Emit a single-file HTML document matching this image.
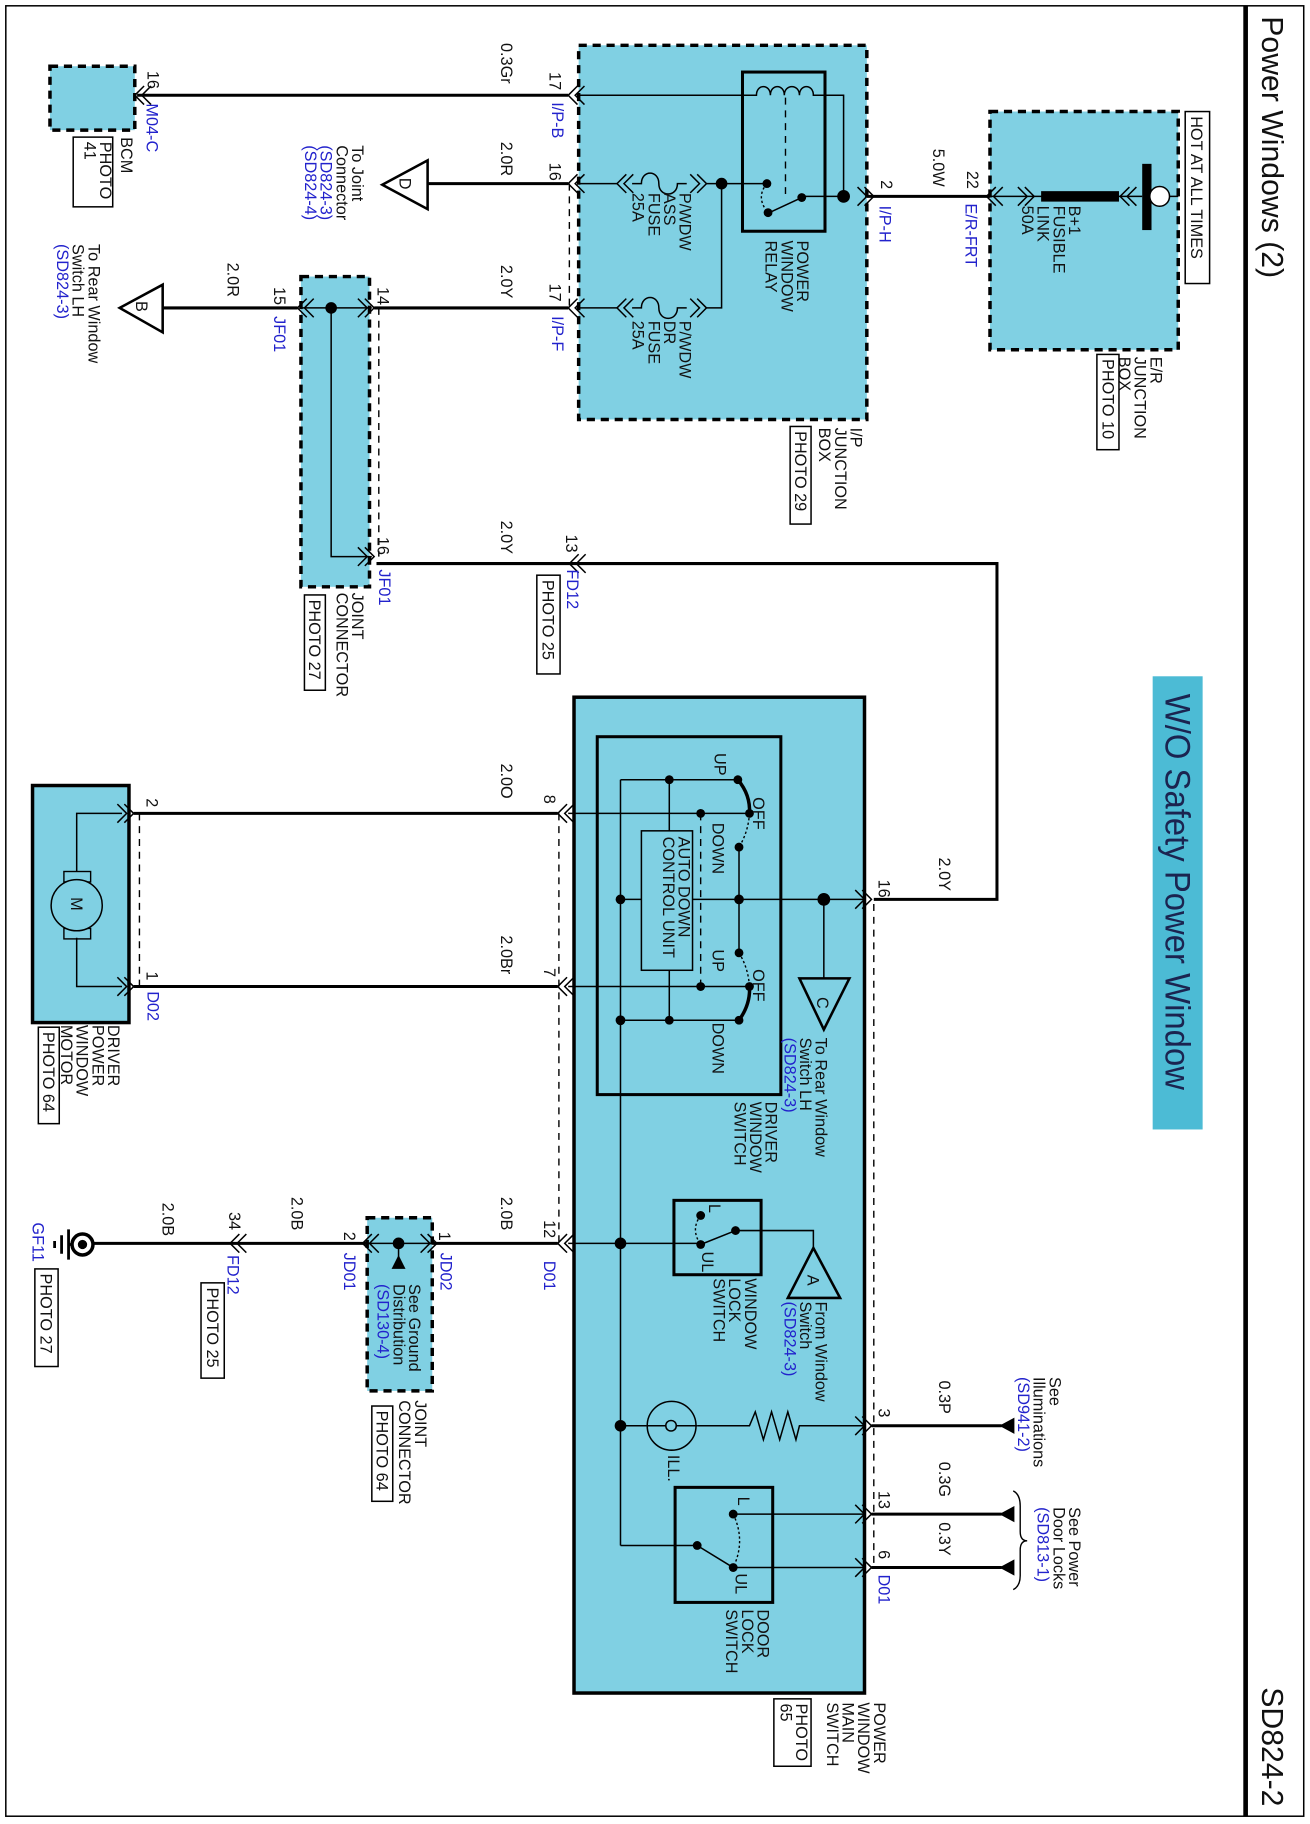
<!DOCTYPE html>
<html><head><meta charset="utf-8"><style>
html,body{margin:0;padding:0;background:#fff}
svg{display:block}
text{font-family:"Liberation Sans",Arial,sans-serif;font-size:14px;fill:#111}
.b{fill:#2222cc}
.w{stroke:#000;stroke-width:2.6;fill:none}
.t{stroke:#000;stroke-width:1.3;fill:none}
.d{stroke:#000;stroke-width:1.2;fill:none;stroke-dasharray:6 5}
.box{fill:#80d0e3;stroke:#000;stroke-width:3;stroke-dasharray:7 5}
.sbox{fill:#80d0e3;stroke:#000;stroke-width:3}
.pb{fill:#fff;stroke:#000;stroke-width:1.3}
</style></head><body>
<svg width="1310" height="1824" viewBox="0 0 1127.4 1569.7" preserveAspectRatio="none" xmlns="http://www.w3.org/2000/svg">
<defs>
<g id="cl"><path d="M8,-8 L0,0 L8,8 M14,-8 L6,0 L14,8" stroke="#000" stroke-width="1.3" fill="none"/></g>
<g id="cr"><path d="M-8,-8 L0,0 L-8,8 M-14,-8 L-6,0 L-14,8" stroke="#000" stroke-width="1.3" fill="none"/></g>
</defs>
<rect x="0" y="0" width="1127.4" height="1569.7" fill="#fff"/>
<rect x="5" y="5" width="1117" height="1558" fill="none" stroke="#000" stroke-width="1.3"/>
<line x1="1072" y1="5" x2="1072" y2="1563" stroke="#000" stroke-width="4"/>
<text transform="translate(1086,14) rotate(90)" style="font-size:26px">Power Windows (2)</text>
<text transform="translate(1086,1452) rotate(90)" style="font-size:26px">SD824-2</text>

<rect x="992" y="582" width="43" height="390" fill="#4cbbd5"/>
<text transform="translate(1003,597) rotate(90)" style="font-size:30px;fill:#1b2450" textLength="341" lengthAdjust="spacingAndGlyphs">W/O Safety Power Window</text>

<rect class="box" x="852" y="96" width="162" height="205"/>
<rect class="pb" x="1020" y="96" width="21" height="148"/>
<text transform="translate(1025,100) rotate(90)">HOT AT ALL TIMES</text>
<line class="w" x1="745" y1="169" x2="852" y2="169"/>
<line class="t" x1="852" y1="169" x2="983" y2="169"/>
<use href="#cl" x="849" y="169"/><use href="#cr" x="890" y="169"/><use href="#cl" x="964" y="169"/>
<rect x="896" y="164.5" width="67" height="9" fill="#000"/>
<rect x="983" y="141" width="8" height="57" fill="#000"/>
<line class="t" x1="991" y1="169" x2="1014" y2="169"/>
<circle cx="998" cy="169" r="8.5" fill="#fff" stroke="#000" stroke-width="1.3"/>
<text transform="translate(920,177) rotate(90)"><tspan x="0">B+1</tspan><tspan x="0" dy="13.5">FUSIBLE</tspan><tspan x="0" dy="13.5">LINK</tspan><tspan x="0" dy="13.5">50A</tspan></text>
<text transform="translate(990,307) rotate(90)"><tspan x="0">E/R</tspan><tspan x="0" dy="13.5">JUNCTION</tspan><tspan x="0" dy="13.5">BOX</tspan></text>
<rect class="pb" x="944" y="305" width="19" height="82"/>
<text transform="translate(949,309) rotate(90)">PHOTO 10</text>
<text transform="translate(832,147) rotate(90)">22</text>
<text class="b" transform="translate(831,175) rotate(90)">E/R-FRT</text>
<text transform="translate(803,128) rotate(90)">5.0W</text>
<text transform="translate(758,155) rotate(90)">2</text>
<text class="b" transform="translate(757,177) rotate(90)">I/P-H</text>

<rect class="box" x="498" y="39" width="248" height="322"/>
<rect x="639" y="62" width="71" height="137" fill="none" stroke="#000" stroke-width="2.6"/>
<use href="#cr" x="752" y="169"/>
<path class="t" d="M497,82 L651,82 C651,72 663,72 663,82 C663,72 675,72 675,82 C675,72 688,72 688,82 C688,72 700,72 700,82 L726,82 L726,169 L690,169"/>
<line class="d" x1="676" y1="84" x2="676" y2="168"/>
<circle cx="726" cy="169" r="5.5"/>
<circle cx="690" cy="170" r="3.8"/><circle cx="660" cy="158" r="3.8"/><circle cx="661" cy="183" r="3.8"/>
<line class="t" x1="690" y1="170" x2="662" y2="183"/>
<path d="M660,158 Q650,170 661,183" stroke="#000" stroke-width="1.2" fill="none" stroke-dasharray="2 2"/>
<path class="t" d="M497,158 L531,158 M544,158 L552,158 C552,146 567,146 567,158 C567,170 583,170 583,158 L591,158 M608,158 L660,158"/>
<circle cx="621" cy="158" r="5"/>
<path class="t" d="M621,158 L621,265 L608,265 M591,265 L583,265 C583,277 567,277 567,265 C567,253 552,253 552,265 L544,265 M531,265 L497,265"/>
<use href="#cl" x="531" y="158"/><use href="#cr" x="608" y="158"/>
<use href="#cl" x="531" y="265"/><use href="#cr" x="608" y="265"/>
<use href="#cl" x="489" y="82"/><use href="#cl" x="489" y="158"/><use href="#cl" x="489" y="265"/>
<line class="d" x1="490" y1="158" x2="490" y2="265"/>
<text transform="translate(686,207) rotate(90)"><tspan x="0">POWER</tspan><tspan x="0" dy="13.5">WINDOW</tspan><tspan x="0" dy="13.5">RELAY</tspan></text>
<text transform="translate(585,166) rotate(90)"><tspan x="0">P/WDW</tspan><tspan x="0" dy="13.5">ASS</tspan><tspan x="0" dy="13.5">FUSE</tspan><tspan x="0" dy="13.5">25A</tspan></text>
<text transform="translate(585,276) rotate(90)"><tspan x="0">P/WDW</tspan><tspan x="0" dy="13.5">DR</tspan><tspan x="0" dy="13.5">FUSE</tspan><tspan x="0" dy="13.5">25A</tspan></text>
<text transform="translate(732,368) rotate(90)"><tspan x="0">I/P</tspan><tspan x="0" dy="13.5">JUNCTION</tspan><tspan x="0" dy="13.5">BOX</tspan></text>
<rect class="pb" x="680" y="367" width="18" height="84"/>
<text transform="translate(684,371) rotate(90)">PHOTO 29</text>
<text transform="translate(473,62) rotate(90)">17</text>
<text class="b" transform="translate(475,88) rotate(90)">I/P-B</text>
<text transform="translate(431,37) rotate(90)">0.3Gr</text>
<text transform="translate(473,140) rotate(90)">16</text>
<text transform="translate(431,122) rotate(90)">2.0R</text>
<text transform="translate(473,244) rotate(90)">17</text>
<text class="b" transform="translate(475,272) rotate(90)">I/P-F</text>
<text transform="translate(431,228) rotate(90)">2.0Y</text>

<rect class="box" x="43" y="57" width="73" height="55"/>
<line class="w" x1="118" y1="82" x2="489" y2="82"/>
<use href="#cl" x="116" y="82"/>
<text transform="translate(127,61) rotate(90)">16</text>
<text class="b" transform="translate(126,89) rotate(90)">M04-C</text>
<text transform="translate(104,118) rotate(90)">BCM</text>
<rect class="pb" x="63" y="118" width="34" height="60"/>
<text transform="translate(86,122) rotate(90)"><tspan x="0">PHOTO</tspan><tspan x="0" dy="13.5">41</tspan></text>

<line class="w" x1="368" y1="158" x2="489" y2="158"/>
<polygon points="329,159 368,138 368,180" fill="#fff" stroke="#000" stroke-width="2.2"/>
<text transform="translate(344,153) rotate(90)">D</text>
<text transform="translate(303,125) rotate(90)"><tspan x="0">To Joint</tspan><tspan x="0" dy="13.5">Connector</tspan><tspan x="0" dy="13.5" class="b">(SD824-3)</tspan><tspan x="0" dy="13.5" class="b">(SD824-4)</tspan></text>

<line class="w" x1="322" y1="265" x2="489" y2="265"/>
<rect class="box" x="259" y="238" width="59" height="267"/>
<line class="t" x1="258" y1="265" x2="320" y2="265"/>
<circle cx="285" cy="265" r="5"/>
<path class="t" d="M285,265 L285,479 L320,479"/>
<use href="#cr" x="322" y="265"/><use href="#cr" x="322" y="479"/><use href="#cl" x="256" y="265"/>
<line class="d" x1="326" y1="265" x2="326" y2="479"/>
<text transform="translate(325,247) rotate(90)">14</text>
<text transform="translate(236,247) rotate(90)">15</text>
<text class="b" transform="translate(236,272) rotate(90)">JF01</text>
<text transform="translate(196,226) rotate(90)">2.0R</text>
<line class="w" x1="140" y1="265" x2="256" y2="265"/>
<polygon points="103,265 140,245 140,286" fill="#fff" stroke="#000" stroke-width="2.2"/>
<text transform="translate(117,259) rotate(90)">B</text>
<text transform="translate(76,210) rotate(90)"><tspan x="0">To Rear Window</tspan><tspan x="0" dy="13.5">Switch LH</tspan><tspan x="0" dy="13.5" class="b">(SD824-3)</tspan></text>
<text transform="translate(303,510) rotate(90)"><tspan x="0">JOINT</tspan><tspan x="0" dy="13.5">CONNECTOR</tspan></text>
<rect class="pb" x="262" y="512" width="18" height="82"/>
<text transform="translate(266,516) rotate(90)">PHOTO 27</text>

<path class="w" d="M324,485 L858,485 L858,774 L752,774"/>
<use href="#cl" x="490" y="485"/>
<text transform="translate(431,448) rotate(90)">2.0Y</text>
<text transform="translate(487,460) rotate(90)">13</text>
<text class="b" transform="translate(488,490) rotate(90)">FD12</text>
<rect class="pb" x="462" y="495" width="20" height="85"/>
<text transform="translate(467,499) rotate(90)">PHOTO 25</text>
<text transform="translate(325,462) rotate(90)">16</text>
<text class="b" transform="translate(326,490) rotate(90)">JF01</text>

<rect class="sbox" x="494" y="600" width="250" height="857"/>
<rect x="514" y="634" width="158" height="308" fill="none" stroke="#000" stroke-width="2.6"/>
<use href="#cr" x="750" y="774"/>
<line class="d" x1="752" y1="778" x2="752" y2="1349"/>
<line class="d" x1="481" y1="700" x2="481" y2="1070"/>
<path class="t" d="M744,774 L596,774 M552,774 L534,774"/>
<circle cx="709" cy="774" r="5.5"/>
<line class="t" x1="709" y1="774" x2="709" y2="842"/>
<polygon points="688,842 731,842 709,886" fill="none" stroke="#000" stroke-width="2.2"/>
<text transform="translate(703,858) rotate(90)">C</text>
<rect x="552" y="715" width="44" height="120" fill="none" stroke="#000" stroke-width="1.3"/>
<text transform="translate(584,720) rotate(90)"><tspan x="0">AUTO DOWN</tspan><tspan x="0" dy="13.5">CONTROL UNIT</tspan></text>
<path class="t" d="M534,671 L534,1330 M534,671 L635,671 M576,671 L576,715 M576,835 L576,878 M534,878 L636,878 M636,729 L636,820"/>
<line class="d" x1="603" y1="700" x2="603" y2="849"/>
<path class="t" d="M489,700 L645,700 M489,849 L645,849"/>
<path d="M635,671 Q646,684 645,700" stroke="#000" stroke-width="3" fill="none"/>
<path d="M645,849 Q646,864 636,878" stroke="#000" stroke-width="3" fill="none"/>
<path d="M645,700 Q644,716 636,729 M636,820 Q644,833 645,849" stroke="#000" stroke-width="1.2" fill="none" stroke-dasharray="2 2"/>
<g fill="#000">
<circle cx="635" cy="671" r="3.8"/><circle cx="576" cy="671" r="3.8"/><circle cx="645" cy="700" r="3.8"/><circle cx="603" cy="700" r="3.8"/>
<circle cx="636" cy="729" r="3.8"/><circle cx="636" cy="774" r="4.2"/><circle cx="534" cy="774" r="4.2"/><circle cx="636" cy="820" r="3.8"/>
<circle cx="645" cy="849" r="3.8"/><circle cx="603" cy="849" r="3.8"/><circle cx="636" cy="878" r="3.8"/><circle cx="576" cy="878" r="3.8"/><circle cx="534" cy="878" r="4.2"/>
</g>
<text transform="translate(615,648) rotate(90)">UP</text>
<text transform="translate(648,686) rotate(90)">OFF</text>
<text transform="translate(613,708) rotate(90)">DOWN</text>
<text transform="translate(613,817) rotate(90)">UP</text>
<text transform="translate(648,834) rotate(90)">OFF</text>
<text transform="translate(613,880) rotate(90)">DOWN</text>
<text transform="translate(702,893) rotate(90)"><tspan x="0">To Rear Window</tspan><tspan x="0" dy="13.5">Switch LH</tspan><tspan x="0" dy="13.5" class="b">(SD824-3)</tspan></text>
<text transform="translate(659,948) rotate(90)"><tspan x="0">DRIVER</tspan><tspan x="0" dy="13.5">WINDOW</tspan><tspan x="0" dy="13.5">SWITCH</tspan></text>
<text transform="translate(756,757) rotate(90)">16</text>
<text transform="translate(808,738) rotate(90)">2.0Y</text>

<line class="w" x1="115" y1="700" x2="480" y2="700"/>
<line class="w" x1="115" y1="849" x2="480" y2="849"/>
<use href="#cl" x="480" y="700"/><use href="#cl" x="480" y="849"/>
<text transform="translate(468,684) rotate(90)">8</text>
<text transform="translate(431,657) rotate(90)">2.0O</text>
<text transform="translate(468,833) rotate(90)">7</text>
<text transform="translate(431,805) rotate(90)">2.0Br</text>
<rect class="sbox" x="28" y="676" width="83" height="204"/>
<use href="#cr" x="115" y="700"/><use href="#cr" x="115" y="849"/>
<line class="d" x1="120" y1="700" x2="120" y2="849"/>
<path class="t" d="M66,750 L66,700 L105,700 M66,807 L66,849 L105,849"/>
<rect x="55" y="750" width="23" height="9" fill="none" stroke="#000" stroke-width="1.2"/>
<rect x="55" y="799" width="23" height="9" fill="none" stroke="#000" stroke-width="1.2"/>
<circle cx="66" cy="779" r="22" fill="#80d0e3" stroke="#000" stroke-width="1.3"/>
<text transform="translate(61,772) rotate(90)">M</text>
<text transform="translate(126,687) rotate(90)">2</text>
<text transform="translate(126,836) rotate(90)">1</text>
<text class="b" transform="translate(127,853) rotate(90)">D02</text>
<text transform="translate(93,882) rotate(90)"><tspan x="0">DRIVER</tspan><tspan x="0" dy="13.5">POWER</tspan><tspan x="0" dy="13.5">WINDOW</tspan><tspan x="0" dy="13.5">MOTOR</tspan></text>
<rect class="pb" x="33" y="884" width="18" height="83"/>
<text transform="translate(37,888) rotate(90)">PHOTO 64</text>

<rect x="580" y="1033" width="75" height="64" fill="none" stroke="#000" stroke-width="2.6"/>
<path class="t" d="M489,1070 L603,1070 M633,1059 L700,1059 L700,1074 M633,1059 L603,1071"/>
<path d="M603,1046 Q594,1058 603,1071" stroke="#000" stroke-width="1.2" fill="none" stroke-dasharray="2 2"/>
<g fill="#000"><circle cx="534" cy="1070" r="5"/><circle cx="603" cy="1046" r="3.8"/><circle cx="603" cy="1071" r="3.8"/><circle cx="633" cy="1059" r="3.8"/></g>
<polygon points="700,1074 723,1117 678,1117" fill="none" stroke="#000" stroke-width="2.2"/>
<text transform="translate(695,1097) rotate(90)">A</text>
<text transform="translate(610,1036) rotate(90)">L</text>
<text transform="translate(604,1077) rotate(90)">UL</text>
<text transform="translate(641,1100) rotate(90)"><tspan x="0">WINDOW</tspan><tspan x="0" dy="13.5">LOCK</tspan><tspan x="0" dy="13.5">SWITCH</tspan></text>
<text transform="translate(702,1120) rotate(90)"><tspan x="0">From Window</tspan><tspan x="0" dy="13.5">Switch</tspan><tspan x="0" dy="13.5" class="b">(SD824-3)</tspan></text>

<path class="t" d="M534,1227 L556,1227 M600,1227 L645,1227 L650,1215 L657,1239 L664,1215 L671,1239 L678,1215 L685,1239 L688,1227 L744,1227"/>
<circle cx="534" cy="1227" r="5"/>
<circle cx="578" cy="1227" r="21" fill="none" stroke="#000" stroke-width="1.3"/>
<path class="t" d="M556,1227 L573,1227 C573,1221 582,1221 582,1227 C582,1233 573,1233 573,1227 M582,1227 L600,1227"/>
<text transform="translate(575,1252) rotate(90)">ILL.</text>
<use href="#cr" x="750" y="1227"/>
<line class="w" x1="750" y1="1227" x2="862" y2="1227"/>
<polygon points="860,1227 873,1220 873,1234" fill="#000"/>
<text transform="translate(756,1212) rotate(90)">3</text>
<text transform="translate(808,1188) rotate(90)">0.3P</text>
<text transform="translate(903,1185) rotate(90)"><tspan x="0">See</tspan><tspan x="0" dy="13.5">Illuminations</tspan><tspan x="0" dy="13.5" class="b">(SD941-2)</tspan></text>

<rect x="581" y="1280" width="84" height="99" fill="none" stroke="#000" stroke-width="2.6"/>
<path class="t" d="M534,1330 L600,1330 L631,1349 M631,1303 L744,1303 M631,1349 L744,1349"/>
<path d="M631,1303 Q642,1326 631,1349" stroke="#000" stroke-width="1.2" fill="none" stroke-dasharray="2 2"/>
<g fill="#000"><circle cx="600" cy="1330" r="3.8"/><circle cx="631" cy="1303" r="3.8"/><circle cx="631" cy="1349" r="3.8"/></g>
<text transform="translate(635,1288) rotate(90)">L</text>
<text transform="translate(633,1354) rotate(90)">UL</text>
<text transform="translate(652,1385) rotate(90)"><tspan x="0">DOOR</tspan><tspan x="0" dy="13.5">LOCK</tspan><tspan x="0" dy="13.5">SWITCH</tspan></text>
<use href="#cr" x="750" y="1303"/><use href="#cr" x="750" y="1349"/>
<line class="w" x1="750" y1="1303" x2="862" y2="1303"/>
<line class="w" x1="750" y1="1349" x2="862" y2="1349"/>
<polygon points="860,1303 873,1296 873,1310" fill="#000"/>
<polygon points="860,1349 873,1342 873,1356" fill="#000"/>
<path d="M872,1283 Q878,1286 878,1296 L878,1318 Q878,1326 884,1326 Q878,1326 878,1334 L878,1356 Q878,1365 872,1368" stroke="#000" stroke-width="1.2" fill="none"/>
<text transform="translate(756,1283) rotate(90)">13</text>
<text transform="translate(756,1334) rotate(90)">6</text>
<text class="b" transform="translate(756,1355) rotate(90)">D01</text>
<text transform="translate(808,1258) rotate(90)">0.3G</text>
<text transform="translate(808,1310) rotate(90)">0.3Y</text>
<text transform="translate(920,1297) rotate(90)"><tspan x="0">See Power</tspan><tspan x="0" dy="13.5">Door Locks</tspan><tspan x="0" dy="13.5" class="b">(SD813-1)</tspan></text>
<text transform="translate(752,1465) rotate(90)"><tspan x="0">POWER</tspan><tspan x="0" dy="13.5">WINDOW</tspan><tspan x="0" dy="13.5">MAIN</tspan><tspan x="0" dy="13.5">SWITCH</tspan></text>
<rect class="pb" x="666" y="1462" width="32" height="58"/>
<text transform="translate(685,1466) rotate(90)"><tspan x="0">PHOTO</tspan><tspan x="0" dy="13.5">65</tspan></text>

<line class="w" x1="80" y1="1070" x2="480" y2="1070"/>
<use href="#cl" x="480" y="1070"/>
<text transform="translate(468,1050) rotate(90)">12</text>
<text transform="translate(431,1030) rotate(90)">2.0B</text>
<text class="b" transform="translate(468,1085) rotate(90)">D01</text>
<rect class="box" x="316" y="1048" width="56" height="149"/>
<line class="t" x1="316" y1="1070" x2="372" y2="1070"/>
<circle cx="343" cy="1070" r="5"/>
<line class="t" x1="343" y1="1070" x2="343" y2="1082"/>
<polygon points="343,1080 337,1092 349,1092" fill="#000"/>
<use href="#cr" x="376" y="1070"/><use href="#cl" x="312" y="1070"/>
<text transform="translate(378,1060) rotate(90)">1</text>
<text class="b" transform="translate(379,1078) rotate(90)">JD02</text>
<text transform="translate(296,1060) rotate(90)">2</text>
<text class="b" transform="translate(296,1078) rotate(90)">JD01</text>
<text transform="translate(352,1105) rotate(90)"><tspan x="0">See Ground</tspan><tspan x="0" dy="13.5">Distribution</tspan><tspan x="0" dy="13.5" class="b">(SD130-4)</tspan></text>
<text transform="translate(357,1205) rotate(90)"><tspan x="0">JOINT</tspan><tspan x="0" dy="13.5">CONNECTOR</tspan></text>
<rect class="pb" x="320" y="1210" width="18" height="82"/>
<text transform="translate(324,1214) rotate(90)">PHOTO 64</text>
<use href="#cl" x="198" y="1070"/>
<text transform="translate(251,1030) rotate(90)">2.0B</text>
<text transform="translate(197,1043) rotate(90)">34</text>
<text class="b" transform="translate(196,1080) rotate(90)">FD12</text>
<rect class="pb" x="173" y="1104" width="20" height="82"/>
<text transform="translate(178,1108) rotate(90)">PHOTO 25</text>
<text transform="translate(140,1035) rotate(90)">2.0B</text>
<circle cx="71" cy="1071" r="9" fill="#fff" stroke="#000" stroke-width="3"/>
<circle cx="71" cy="1071" r="4" fill="#000"/>
<path d="M62,1071 L59,1071 M59,1058 L59,1084 M53,1063 L53,1079 M47,1068 L47,1074" stroke="#000" stroke-width="2.4" fill="none"/>
<text class="b" transform="translate(28,1052) rotate(90)">GF11</text>
<rect class="pb" x="30" y="1092" width="20" height="84"/>
<text transform="translate(35,1096) rotate(90)">PHOTO 27</text>
</svg>
</body></html>
